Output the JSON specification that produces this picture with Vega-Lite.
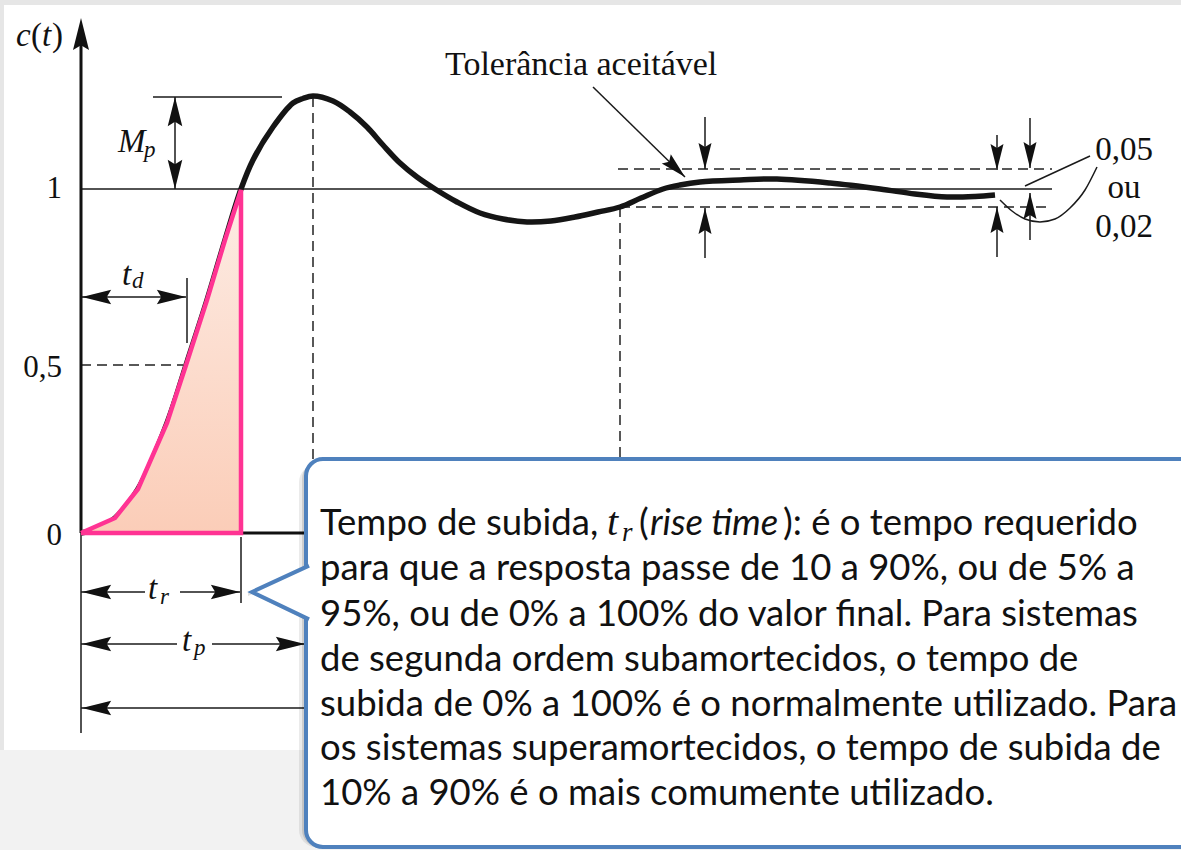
{
  "$schema": "https://vega.github.io/schema/vega-lite/v6.json",
  "width": 1181,
  "height": 850,
  "autosize": {"type": "none"},
  "padding": 0,
  "background": "#f2f2f2",
  "config": {"view": {"stroke": null}},
  "datasets": {
    "panels": [
      {"part": "edge", "t": -0.81, "t2": 11.0, "c": 1.5494, "c2": 1.5349},
      {"part": "edge", "t": -0.81, "t2": -0.77, "c": 1.5494, "c2": -0.6308},
      {"part": "sheet", "t": -0.77, "t2": 11.0, "c": 1.5349, "c2": -0.6308}
    ],
    "response": [
      {"t": 0, "c": 0}, {"t": 0.19, "c": 0.0145}, {"t": 0.34, "c": 0.0436}, {"t": 0.57, "c": 0.1279},
      {"t": 0.86, "c": 0.3198}, {"t": 1.06, "c": 0.4971}, {"t": 1.26, "c": 0.6773}, {"t": 1.44, "c": 0.8517},
      {"t": 1.6, "c": 1.0}, {"t": 1.72, "c": 1.0843}, {"t": 1.92, "c": 1.1802}, {"t": 2.12, "c": 1.25},
      {"t": 2.22, "c": 1.2631}, {"t": 2.32, "c": 1.2703}, {"t": 2.52, "c": 1.2558}, {"t": 2.69, "c": 1.2238},
      {"t": 2.86, "c": 1.1802}, {"t": 3.02, "c": 1.1279}, {"t": 3.19, "c": 1.0756}, {"t": 3.36, "c": 1.0349},
      {"t": 3.54, "c": 1.0}, {"t": 3.76, "c": 0.9622}, {"t": 3.99, "c": 0.9302}, {"t": 4.22, "c": 0.9128},
      {"t": 4.46, "c": 0.9041}, {"t": 4.7, "c": 0.907}, {"t": 4.94, "c": 0.9186}, {"t": 5.17, "c": 0.9331},
      {"t": 5.39, "c": 0.9477}, {"t": 5.6, "c": 0.9738}, {"t": 5.82, "c": 1.0}, {"t": 5.99, "c": 1.0116},
      {"t": 6.19, "c": 1.0203}, {"t": 6.59, "c": 1.0262}, {"t": 6.96, "c": 1.0291}, {"t": 7.49, "c": 1.0174},
      {"t": 7.99, "c": 1.0}, {"t": 8.34, "c": 0.9855}, {"t": 8.66, "c": 0.9767}, {"t": 8.94, "c": 0.9782},
      {"t": 9.14, "c": 0.9826}
    ],
    "rise": [
      {"i": 1, "t": 0, "c": 0}, {"i": 2, "t": 0.34, "c": 0.0436}, {"i": 3, "t": 0.57, "c": 0.1279},
      {"i": 4, "t": 0.86, "c": 0.3198}, {"i": 5, "t": 1.06, "c": 0.4971}, {"i": 6, "t": 1.26, "c": 0.6773},
      {"i": 7, "t": 1.44, "c": 0.8517}, {"i": 8, "t": 1.6, "c": 0.997}, {"i": 9, "t": 1.6, "c": 0},
      {"i": 10, "t": 0, "c": 0}
    ],
    "rules": [
      {"kind": "axis", "t": 0, "t2": 0, "c": 0, "c2": 1.4331},
      {"kind": "axis", "t": 0, "t2": 2.3, "c": 0, "c2": 0},
      {"kind": "thin", "t": 0, "t2": 0, "c": 0, "c2": -0.5814},
      {"kind": "thin", "t": 0, "t2": 9.71, "c": 1, "c2": 1},
      {"kind": "thin", "t": 0.72, "t2": 2.01, "c": 1.2674, "c2": 1.2674},
      {"kind": "thin", "t": 0.94, "t2": 0.94, "c": 1.0, "c2": 1.2674},
      {"kind": "thin", "t": 0, "t2": 1.05, "c": 0.686, "c2": 0.686},
      {"kind": "thin", "t": 1.06, "t2": 1.06, "c": 0.7413, "c2": 0.5523},
      {"kind": "thin", "t": 1.6, "t2": 1.6, "c": -0.0116, "c2": -0.2035},
      {"kind": "thin", "t": 0, "t2": 0.64, "c": -0.1715, "c2": -0.1715},
      {"kind": "thin", "t": 0.99, "t2": 1.59, "c": -0.1715, "c2": -0.1715},
      {"kind": "thin", "t": 0, "t2": 0.96, "c": -0.3227, "c2": -0.3227},
      {"kind": "thin", "t": 1.31, "t2": 2.24, "c": -0.3227, "c2": -0.3227},
      {"kind": "thin", "t": 0, "t2": 2.3, "c": -0.5087, "c2": -0.5087},
      {"kind": "thin", "t": 6.24, "t2": 6.24, "c": 1.2093, "c2": 1.0581},
      {"kind": "thin", "t": 6.24, "t2": 6.24, "c": 0.7994, "c2": 0.9448},
      {"kind": "thin", "t": 9.16, "t2": 9.16, "c": 1.157, "c2": 1.0552},
      {"kind": "thin", "t": 9.16, "t2": 9.16, "c": 0.8023, "c2": 0.9477},
      {"kind": "thin", "t": 9.49, "t2": 9.49, "c": 1.2064, "c2": 1.061},
      {"kind": "thin", "t": 9.49, "t2": 9.49, "c": 0.8517, "c2": 0.9884},
      {"kind": "thin", "t": 5.12, "t2": 6.04, "c": 1.2965, "c2": 1.0349},
      {"kind": "thin", "t": 10.09, "t2": 9.44, "c": 1.0959, "c2": 1.0087},
      {"kind": "dash", "t": 0, "t2": 1.02, "c": 0.4884, "c2": 0.4884},
      {"kind": "dash", "t": 2.32, "t2": 2.32, "c": 1.2674, "c2": 0.0959},
      {"kind": "dash", "t": 5.39, "t2": 5.39, "c": 0.9477, "c2": 0.0959},
      {"kind": "dash", "t": 5.37, "t2": 9.71, "c": 1.0581, "c2": 1.0581},
      {"kind": "dash", "t": 5.39, "t2": 9.71, "c": 0.9477, "c2": 0.9477}
    ],
    "leader": [
      {"t": 9.19, "c": 0.968}, {"t": 9.31, "c": 0.936}, {"t": 9.44, "c": 0.9128}, {"t": 9.59, "c": 0.9041},
      {"t": 9.74, "c": 0.9128}, {"t": 9.89, "c": 0.9448}, {"t": 10.04, "c": 0.9971}, {"t": 10.16, "c": 1.064}
    ],
    "arrowheads": [
      {"t": 0, "c": 1.4971, "heading": 270, "kind": "axis"},
      {"t": 0.94, "c": 1.2674, "heading": 270, "kind": "dim"},
      {"t": 0.94, "c": 1.0, "heading": 90, "kind": "dim"},
      {"t": 0.01, "c": 0.686, "heading": 180, "kind": "dim"},
      {"t": 1.05, "c": 0.686, "heading": 0, "kind": "dim"},
      {"t": 0.01, "c": -0.1715, "heading": 180, "kind": "dim"},
      {"t": 1.59, "c": -0.1715, "heading": 0, "kind": "dim"},
      {"t": 0.01, "c": -0.3227, "heading": 180, "kind": "dim"},
      {"t": 2.24, "c": -0.3227, "heading": 0, "kind": "dim"},
      {"t": 0.01, "c": -0.5087, "heading": 180, "kind": "dim"},
      {"t": 6.24, "c": 1.0581, "heading": 90, "kind": "tol"},
      {"t": 6.24, "c": 0.9448, "heading": 270, "kind": "tol"},
      {"t": 9.16, "c": 1.0552, "heading": 90, "kind": "tol"},
      {"t": 9.16, "c": 0.9477, "heading": 270, "kind": "tol"},
      {"t": 9.49, "c": 1.061, "heading": 90, "kind": "tol"},
      {"t": 9.49, "c": 0.9884, "heading": 270, "kind": "tol"},
      {"t": 6.04, "c": 1.0349, "heading": 44, "kind": "tol"}
    ],
    "labels": [
      {"role": "sym", "t": -0.65, "c": 1.4157, "text": "c"},
      {"role": "paren", "t": -0.5, "c": 1.4157, "text": "("},
      {"role": "sym", "t": -0.39, "c": 1.4157, "text": "t"},
      {"role": "paren", "t": -0.29, "c": 1.4157, "text": ")"},
      {"role": "sym", "t": 0.37, "c": 1.1076, "text": "M"},
      {"role": "sub", "t": 0.63, "c": 1.093, "text": "p"},
      {"role": "sym", "t": 0.41, "c": 0.7209, "text": "t"},
      {"role": "sub", "t": 0.51, "c": 0.7122, "text": "d"},
      {"role": "sym", "t": 0.67, "c": -0.1919, "text": "t"},
      {"role": "sub", "t": 0.79, "c": -0.2064, "text": "r"},
      {"role": "sym", "t": 1.01, "c": -0.343, "text": "t"},
      {"role": "sub", "t": 1.13, "c": -0.3547, "text": "p"},
      {"role": "tick", "t": -0.19, "c": 0.9738, "text": "1"},
      {"role": "tick", "t": -0.19, "c": 0.4535, "text": "0,5"},
      {"role": "tick", "t": -0.19, "c": -0.0349, "text": "0"},
      {"role": "note", "t": 3.64, "c": 1.3314, "text": "Tolerância aceitável"},
      {"role": "tol", "t": 10.43, "c": 1.0843, "text": "0,05"},
      {"role": "tol", "t": 10.43, "c": 0.9738, "text": "ou"},
      {"role": "tol", "t": 10.43, "c": 0.8605, "text": "0,02"}
    ],
    "box": [{"t": 2.25, "t2": 11.4, "c": 0.2151, "c2": -0.9128}],
    "pointer": [
      {"t": 1.71, "c": -0.1715, "c2": -0.1715},
      {"t": 2.29, "c": -0.0935, "c2": -0.2526}
    ],
    "pointerEdge": [
      {"i": 1, "t": 2.28, "c": -0.0948},
      {"i": 2, "t": 1.71, "c": -0.1715},
      {"i": 3, "t": 2.28, "c": -0.2512}
    ],
    "callout": [
      {"style": "regular", "t": 2.39, "c": -0.0058, "text": "Tempo de subida,"},
      {"style": "math", "t": 5.26, "c": -0.0058, "text": "t"},
      {"style": "mathsub", "t": 5.41, "c": -0.0233, "text": "r"},
      {"style": "regular", "t": 5.58, "c": -0.0058, "text": "("},
      {"style": "italic", "t": 5.69, "c": -0.0058, "text": "rise time"},
      {"style": "regular", "t": 7.02, "c": -0.0058, "text": "): é o tempo requerido"},
      {"style": "regular", "t": 2.39, "c": -0.1366, "text": "para que a resposta passe de 10 a 90%, ou de 5% a"},
      {"style": "regular", "t": 2.39, "c": -0.2703, "text": "95%, ou de 0% a 100% do valor final. Para sistemas"},
      {"style": "regular", "t": 2.39, "c": -0.4012, "text": "de segunda ordem subamortecidos, o tempo de"},
      {"style": "regular", "t": 2.39, "c": -0.532, "text": "subida de 0% a 100% é o normalmente utilizado. Para"},
      {"style": "regular", "t": 2.39, "c": -0.6599, "text": "os sistemas superamortecidos, o tempo de subida de"},
      {"style": "regular", "t": 2.39, "c": -0.7907, "text": "10% a 90% é o mais comumente utilizado."}
    ]
  },
  "encoding": {
    "x": {"field": "t", "type": "quantitative", "scale": {"domain": [-0.81, 11.0], "nice": false, "zero": false}, "axis": null},
    "y": {"field": "c", "type": "quantitative", "scale": {"domain": [-0.92151, 1.54942], "nice": false, "zero": false}, "axis": null}
  },
  "layer": [
    {
      "data": {"name": "panels"},
      "transform": [{"filter": "datum.part === 'edge'"}],
      "mark": {"type": "rect", "color": "#e6e6e6"},
      "encoding": {"x2": {"field": "t2"}, "y2": {"field": "c2"}}
    },
    {
      "data": {"name": "panels"},
      "transform": [{"filter": "datum.part === 'sheet'"}],
      "mark": {"type": "rect", "color": "#ffffff"},
      "encoding": {"x2": {"field": "t2"}, "y2": {"field": "c2"}}
    },
    {
      "data": {"name": "rules"},
      "transform": [{"filter": "datum.kind === 'dash'"}],
      "mark": {"type": "rule", "color": "#222222", "strokeWidth": 1.5, "strokeDash": [10, 6]},
      "encoding": {"x2": {"field": "t2"}, "y2": {"field": "c2"}}
    },
    {
      "data": {"name": "rules"},
      "transform": [{"filter": "datum.kind === 'thin'"}],
      "mark": {"type": "rule", "color": "#1a1a1a", "strokeWidth": 1.5},
      "encoding": {"x2": {"field": "t2"}, "y2": {"field": "c2"}}
    },
    {
      "data": {"name": "rules"},
      "transform": [{"filter": "datum.kind === 'axis'"}],
      "mark": {"type": "rule", "color": "#111111", "strokeWidth": 3},
      "encoding": {"x2": {"field": "t2"}, "y2": {"field": "c2"}}
    },
    {
      "data": {"name": "response"},
      "mark": {"type": "line", "color": "#151515", "strokeWidth": 5.5, "interpolate": "catmull-rom"},
      "encoding": {}
    },
    {
      "data": {"name": "rise"},
      "transform": [{"filter": "datum.i <= 8"}],
      "mark": {
        "type": "area",
        "interpolate": "linear",
        "fill": {"gradient": "linear", "x1": 0, "y1": 0, "x2": 0, "y2": 1,
                 "stops": [{"offset": 0, "color": "#fdece4"}, {"offset": 1, "color": "#fbcdb8"}]}
      },
      "encoding": {"y2": {"datum": 0}}
    },
    {
      "data": {"name": "rise"},
      "mark": {"type": "line", "color": "#ff3393", "strokeWidth": 4.5, "strokeJoin": "miter"},
      "encoding": {"order": {"field": "i", "type": "quantitative"}}
    },
    {
      "data": {"name": "leader"},
      "mark": {"type": "line", "color": "#1a1a1a", "strokeWidth": 1.5, "interpolate": "monotone"},
      "encoding": {}
    },
    {
      "data": {"name": "arrowheads"},
      "mark": {"type": "point", "shape": "M0,0 L-2,-0.5 L-1.7,0 L-2,0.5 Z", "filled": true, "opacity": 1, "color": "#111111", "strokeWidth": 0},
      "encoding": {
        "angle": {"field": "heading", "type": "quantitative", "scale": null},
        "size": {"field": "kind", "type": "ordinal", "scale": {"domain": ["axis", "dim", "tol"], "range": [1024, 676, 441]}, "legend": null}
      }
    },
    {
      "data": {"name": "labels"},
      "transform": [{"filter": "datum.role === 'sym'"}],
      "mark": {"type": "text", "font": "Liberation Serif", "fontStyle": "italic", "fontSize": 33, "align": "left", "baseline": "alphabetic", "color": "#111111"},
      "encoding": {"text": {"field": "text"}}
    },
    {
      "data": {"name": "labels"},
      "transform": [{"filter": "datum.role === 'paren'"}],
      "mark": {"type": "text", "font": "Liberation Serif", "fontSize": 33, "align": "left", "baseline": "alphabetic", "color": "#111111"},
      "encoding": {"text": {"field": "text"}}
    },
    {
      "data": {"name": "labels"},
      "transform": [{"filter": "datum.role === 'sub'"}],
      "mark": {"type": "text", "font": "Liberation Serif", "fontStyle": "italic", "fontSize": 23, "align": "left", "baseline": "alphabetic", "color": "#111111"},
      "encoding": {"text": {"field": "text"}}
    },
    {
      "data": {"name": "labels"},
      "transform": [{"filter": "datum.role === 'tick'"}],
      "mark": {"type": "text", "font": "Liberation Serif", "fontSize": 31, "align": "right", "baseline": "alphabetic", "color": "#111111"},
      "encoding": {"text": {"field": "text"}}
    },
    {
      "data": {"name": "labels"},
      "transform": [{"filter": "datum.role === 'note'"}],
      "mark": {"type": "text", "font": "Liberation Serif", "fontSize": 34, "align": "left", "baseline": "alphabetic", "color": "#111111"},
      "encoding": {"text": {"field": "text"}}
    },
    {
      "data": {"name": "labels"},
      "transform": [{"filter": "datum.role === 'tol'"}],
      "mark": {"type": "text", "font": "Liberation Serif", "fontSize": 33, "align": "center", "baseline": "alphabetic", "color": "#111111"},
      "encoding": {"text": {"field": "text"}}
    },
    {
      "data": {"name": "box"},
      "mark": {"type": "rect", "color": "#000000", "opacity": 0.08, "cornerRadius": 17, "xOffset": -7, "yOffset": 6},
      "encoding": {"x2": {"field": "t2"}, "y2": {"field": "c2"}}
    },
    {
      "data": {"name": "box"},
      "mark": {"type": "rect", "color": "#000000", "opacity": 0.12, "cornerRadius": 17, "xOffset": -4, "yOffset": 3},
      "encoding": {"x2": {"field": "t2"}, "y2": {"field": "c2"}}
    },
    {
      "data": {"name": "pointer"},
      "mark": {"type": "area", "color": "#000000", "opacity": 0.12, "xOffset": -4, "yOffset": 4},
      "encoding": {"y2": {"field": "c2"}}
    },
    {
      "data": {"name": "box"},
      "mark": {"type": "rect", "fill": "#ffffff", "stroke": "#4f81bd", "strokeWidth": 4, "cornerRadius": 17},
      "encoding": {"x2": {"field": "t2"}, "y2": {"field": "c2"}}
    },
    {
      "data": {"name": "pointer"},
      "mark": {"type": "area", "color": "#ffffff", "opacity": 1},
      "encoding": {"y2": {"field": "c2"}}
    },
    {
      "data": {"name": "pointerEdge"},
      "mark": {"type": "line", "color": "#4f81bd", "strokeWidth": 4, "strokeJoin": "miter"},
      "encoding": {"order": {"field": "i", "type": "quantitative"}}
    },
    {
      "data": {"name": "callout"},
      "transform": [{"filter": "datum.style === 'regular'"}],
      "mark": {"type": "text", "font": "Lato", "fontSize": 36.5, "align": "left", "baseline": "alphabetic", "color": "#111111"},
      "encoding": {"text": {"field": "text"}}
    },
    {
      "data": {"name": "callout"},
      "transform": [{"filter": "datum.style === 'italic'"}],
      "mark": {"type": "text", "font": "Lato", "fontStyle": "italic", "fontSize": 36.5, "align": "left", "baseline": "alphabetic", "color": "#111111"},
      "encoding": {"text": {"field": "text"}}
    },
    {
      "data": {"name": "callout"},
      "transform": [{"filter": "datum.style === 'math'"}],
      "mark": {"type": "text", "font": "Liberation Serif", "fontStyle": "italic", "fontSize": 40, "align": "left", "baseline": "alphabetic", "color": "#111111"},
      "encoding": {"text": {"field": "text"}}
    },
    {
      "data": {"name": "callout"},
      "transform": [{"filter": "datum.style === 'mathsub'"}],
      "mark": {"type": "text", "font": "Liberation Serif", "fontStyle": "italic", "fontSize": 27, "align": "left", "baseline": "alphabetic", "color": "#111111"},
      "encoding": {"text": {"field": "text"}}
    }
  ]
}
